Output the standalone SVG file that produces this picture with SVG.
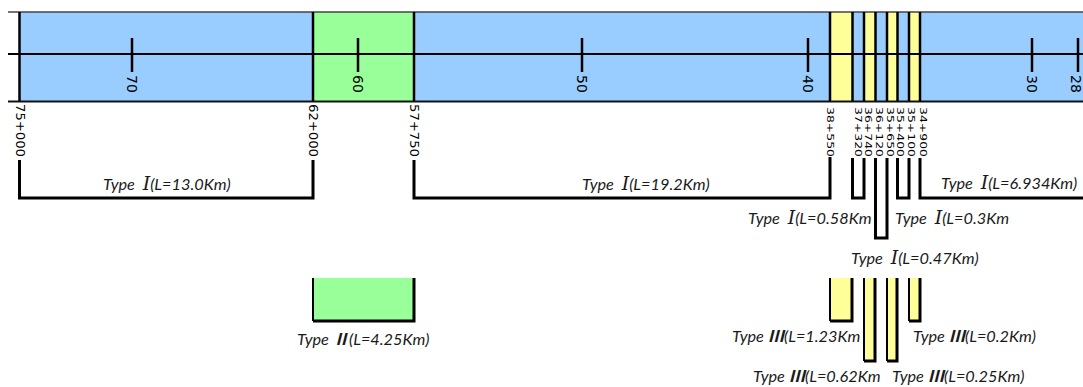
<svg xmlns="http://www.w3.org/2000/svg" width="1083" height="387" viewBox="0 0 1083 387">
<style>
.blue{fill:#99CCFF}
.green{fill:#99FF99}
.yellow{fill:#FFFF99}
.stk{stroke:#000;stroke-width:2.5;fill:none}
.thin{stroke:#000;stroke-width:2;fill:none}
.brk{stroke:#000;stroke-width:3;fill:none;stroke-linejoin:miter}
.tick{font-family:"DejaVu Sans",sans-serif;font-size:14px;fill:#000;dominant-baseline:central}
.stake{font-family:"DejaVu Sans",sans-serif;font-size:12px;fill:#000;dominant-baseline:central}
.lbl{font-family:Lato,"Liberation Sans",sans-serif;font-style:italic;font-size:16.3px;fill:#1a1a1a}
.r1{font-family:"DejaVu Serif",serif;font-style:italic;font-size:19px}
.r2{font-family:"Noto Sans CJK SC",sans-serif;font-style:italic;font-size:16.3px;font-weight:bold}
</style>
<rect width="1083" height="387" fill="#fff"/>
<g id="band">
<rect class="blue" x="19" y="12" width="1064" height="89"/>
<rect class="green" x="313" y="12" width="101" height="89"/>
<rect class="yellow" x="830" y="12" width="22" height="89"/>
<rect class="yellow" x="864" y="12" width="11" height="89"/>
<rect class="yellow" x="887" y="12" width="10" height="89"/>
<rect class="yellow" x="909" y="12" width="11" height="89"/>
<line x1="8" y1="12" x2="1083" y2="12" stroke="#444" stroke-width="1.5"/>
<line x1="8" y1="101.5" x2="1083" y2="101.5" stroke="#111" stroke-width="2"/>
<line x1="8" y1="54" x2="1083" y2="54" stroke="#000" stroke-width="2"/>
</g>
<g id="ticks">
<path class="stk" d="M132,38V72M358,38V72M582,38V72M808,38V72M1032,38V72M1078,38V72"/>
<text class="tick" transform="translate(132,75) rotate(90)">70</text>
<text class="tick" transform="translate(358,75) rotate(90)">60</text>
<text class="tick" transform="translate(582,75) rotate(90)">50</text>
<text class="tick" transform="translate(808,75) rotate(90)">40</text>
<text class="tick" transform="translate(1032,75) rotate(90)">30</text>
<text class="tick" transform="translate(1076,75) rotate(90)">28</text>
</g>
<g id="stakes">
<path class="stk" d="M19.5,12V101M313,12V101M414,12V101M830,12V101M852.5,12V101M864,12V101M875.5,12V101M887,12V101M897.5,12V101M909,12V101M920,12V101"/>
<text class="stake" transform="translate(20,104) rotate(90)" textLength="53" lengthAdjust="spacingAndGlyphs">75+000</text>
<text class="stake" transform="translate(313,104) rotate(90)" textLength="53" lengthAdjust="spacingAndGlyphs">62+000</text>
<text class="stake" transform="translate(414,104) rotate(90)" textLength="53" lengthAdjust="spacingAndGlyphs">57+750</text>
<g transform="translate(0,107)">
<text class="stake" transform="translate(830,0) rotate(90) scale(1,0.75)" textLength="50" lengthAdjust="spacingAndGlyphs">38+550</text>
<text class="stake" transform="translate(858,0) rotate(90) scale(1,0.75)" textLength="50" lengthAdjust="spacingAndGlyphs">37+320</text>
<text class="stake" transform="translate(868.5,0) rotate(90) scale(1,0.75)" textLength="50" lengthAdjust="spacingAndGlyphs">36+740</text>
<text class="stake" transform="translate(879,0) rotate(90) scale(1,0.75)" textLength="50" lengthAdjust="spacingAndGlyphs">36+120</text>
<text class="stake" transform="translate(890,0) rotate(90) scale(1,0.75)" textLength="50" lengthAdjust="spacingAndGlyphs">35+650</text>
<text class="stake" transform="translate(900.5,0) rotate(90) scale(1,0.75)" textLength="50" lengthAdjust="spacingAndGlyphs">35+400</text>
<text class="stake" transform="translate(911.5,0) rotate(90) scale(1,0.75)" textLength="50" lengthAdjust="spacingAndGlyphs">35+100</text>
<text class="stake" transform="translate(923.5,0) rotate(90) scale(1,0.75)" textLength="50" lengthAdjust="spacingAndGlyphs">34+900</text>
</g>
</g>
<g id="connectors">
<path class="brk" d="M19.5,160V198H313V160"/>
<path class="brk" d="M414,160V198H830V157"/>
<path class="brk" d="M852.5,158V198H864V158"/>
<path class="brk" d="M875.5,158V238H887V158"/>
<path class="brk" d="M897.5,158V198H909V158"/>
<path class="brk" d="M920,158V198H1083"/>
</g>
<g id="type1-labels">
<text class="lbl" x="103" y="190">Type <tspan class="r1" dx="4">Ⅰ</tspan>(L=13.0Km)</text>
<text class="lbl" x="582" y="190">Type <tspan class="r1" dx="4">Ⅰ</tspan>(L=19.2Km)</text>
<text class="lbl" x="941" y="189">Type <tspan class="r1" dx="4">Ⅰ</tspan>(L=6.934Km)</text>
<text class="lbl" x="748" y="224">Type <tspan class="r1" dx="4">Ⅰ</tspan>(L=0.58Km</text>
<text class="lbl" x="895" y="224">Type <tspan class="r1" dx="4">Ⅰ</tspan>(L=0.3Km</text>
<text class="lbl" x="851" y="264">Type <tspan class="r1" dx="4">Ⅰ</tspan>(L=0.47Km)</text>
</g>
<g id="type2">
<path class="green" d="M313,278H414V321H313Z"/>
<path class="thin" d="M313,278V321"/>
<path class="brk" d="M313,321H414V278"/>
<text class="lbl" x="297" y="345">Type <tspan class="r2">Ⅱ</tspan>(L=4.25Km)</text>
</g>
<g id="type3">
<path class="yellow" d="M830,278H852V321H830Z"/>
<path class="yellow" d="M864,278H875V361H864Z"/>
<path class="yellow" d="M887,278H897V361H887Z"/>
<path class="yellow" d="M909,278H920V321H909Z"/>
<path class="thin" d="M830,278V321M864,278V361M887,278V361M909,278V321"/>
<path class="brk" d="M830,321H852V278M864,361H875V278M887,361H897V278M909,321H920V278"/>
<text class="lbl" x="732" y="342">Type <tspan class="r2">Ⅲ</tspan>(L=1.23Km</text>
<text class="lbl" x="913" y="342">Type <tspan class="r2">Ⅲ</tspan>(L=0.2Km)</text>
<text class="lbl" x="753" y="382">Type <tspan class="r2">Ⅲ</tspan>(L=0.62Km</text>
<text class="lbl" x="892" y="382">Type <tspan class="r2">Ⅲ</tspan>(L=0.25Km)</text>
</g>
</svg>
